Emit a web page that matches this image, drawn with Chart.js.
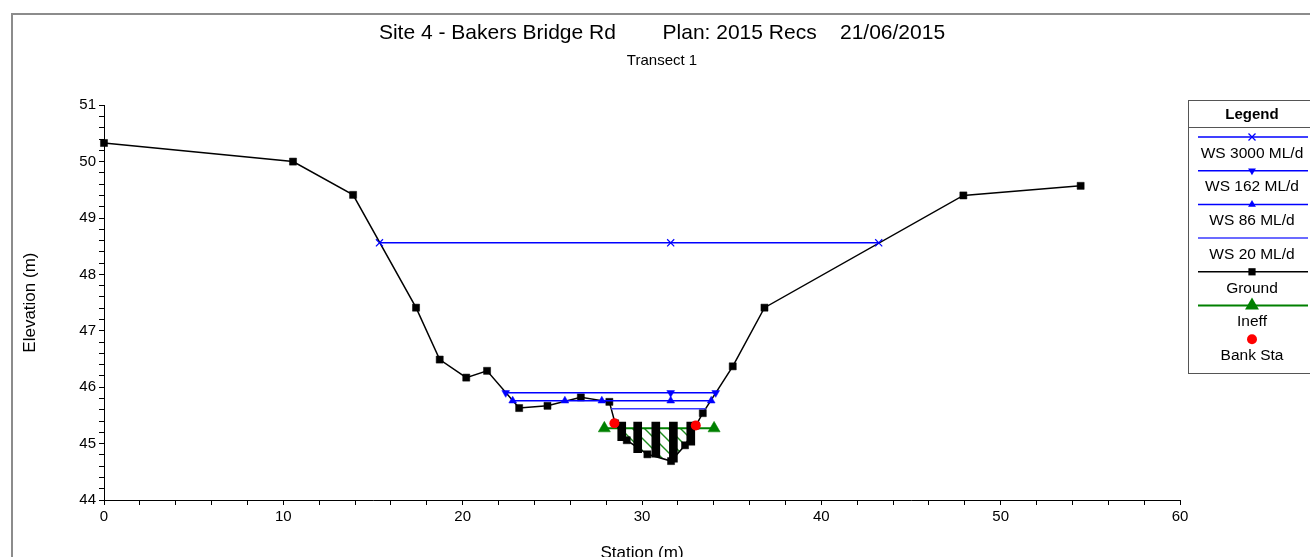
<!DOCTYPE html>
<html>
<head>
<meta charset="utf-8">
<script src="https://cdn.jsdelivr.net/npm/chart.js@4.4.1/dist/chart.umd.min.js"></script>
<style>
  html, body { margin: 0; padding: 0; background: #fff; overflow: hidden; }
  #wrap { position: relative; width: 1310px; height: 557px; overflow: hidden; }
  #frame { position: absolute; left: 11px; top: 13px; width: 1400px; height: 700px;
           border-left: 2px solid #8c8c8c; border-top: 2px solid #8c8c8c; }
  #xs { position: absolute; left: 0; top: 0; }
</style>
</head>
<body>
<div id="wrap">
  <div id="frame"></div>
  <canvas id="xs" width="1310" height="580"></canvas>
</div>
<script>
// ── cross section data (station m, elevation m) ──
const groundSta  = [0, 10.54, 13.89, 17.4, 18.72, 20.2, 21.36, 23.15, 24.73, 26.59, 28.18, 28.5,
                    29.15, 30.3, 31.62, 32.4, 33.0, 33.39, 35.06, 36.83, 47.92, 54.46];
const groundElev = [50.33, 50.0, 49.41, 47.41, 46.49, 46.17, 46.29, 45.63, 45.67, 45.82, 45.74, 45.36,
                    45.06, 44.81, 44.69, 44.97, 45.32, 45.54, 46.37, 47.41, 49.40, 49.57];

// vertical ground columns inside the channel
const colSta    = [28.87, 29.76, 30.77, 31.75, 32.72];
const colTop    = [45.38, 45.38, 45.38, 45.38, 45.38];
const colBottom = [45.05, 44.84, 44.76, 44.67, 44.97];

// water surfaces
const ws3000Sta = [15.36, 31.6, 43.2];
const ws3000El  = 48.56;
const ws162Sta  = [22.4, 31.6, 34.11];
const ws162El   = 45.90;
const ws86Sta   = [22.79, 25.7, 27.76, 31.6, 33.86];
const ws86El    = 45.76;
const ws20Sta   = [28.28, 33.56];
const ws20El    = 45.62;

// ineffective flow limits and bank stations
const ineffSta  = [27.9, 34.02];
const ineffEl   = 45.27;
const bankSta   = [28.46, 33.0];
const bankEl    = [45.36, 45.32];

const xTicks = [0, 10, 20, 30, 40, 50, 60];
const yTicks = [44, 45, 46, 47, 48, 49, 50, 51];

const FONT = "'Liberation Sans', Arial, sans-serif";

function pts(xs, ys) {
  return xs.map((x, i) => ({ x: x, y: Array.isArray(ys) ? ys[i] : ys }));
}

function makeHatch() {
  const c = document.createElement('canvas');
  c.width = 12; c.height = 12;
  const g = c.getContext('2d');
  g.strokeStyle = '#1e8c1e';
  g.lineWidth = 1.4;
  g.beginPath();
  g.moveTo(-6, 6);  g.lineTo(6, 18);
  g.moveTo(0, 0);   g.lineTo(12, 12);
  g.moveTo(6, -6);  g.lineTo(18, 6);
  g.stroke();
  return g.createPattern(c, 'repeat');
}

function marker(ctx, style, x, y, r, rot) {
  ctx.save();
  ctx.translate(x, y);
  if (rot) ctx.rotate(rot * Math.PI / 180);
  ctx.beginPath();
  if (style === 'rect') {
    ctx.rect(-r * 0.72, -r * 0.72, r * 1.44, r * 1.44);
    ctx.fill();
  } else if (style === 'triangle') {
    ctx.moveTo(0, -r);
    ctx.lineTo(r * 0.87, r * 0.5);
    ctx.lineTo(-r * 0.87, r * 0.5);
    ctx.closePath();
    ctx.fill();
  } else if (style === 'circle') {
    ctx.arc(0, 0, r, 0, Math.PI * 2);
    ctx.fill();
  } else if (style === 'crossRot') {
    const d = r * 0.7;
    ctx.moveTo(-d, -d); ctx.lineTo(d, d);
    ctx.moveTo(d, -d);  ctx.lineTo(-d, d);
    ctx.stroke();
  }
  ctx.restore();
}

// boxed legend on the right, built from the datasets
const boxLegend = {
  id: 'boxLegend',
  afterDraw(chart) {
    const ctx = chart.ctx;
    const x0 = 1188, y0 = 100, w = 130, h = 273;
    const cx = 1252;
    ctx.save();
    ctx.fillStyle = '#fff';
    ctx.fillRect(x0, y0, w, h);
    ctx.strokeStyle = '#555';
    ctx.lineWidth = 1;
    ctx.strokeRect(x0 + 0.5, y0 + 0.5, w, h);
    ctx.beginPath();
    ctx.moveTo(x0, 127.5); ctx.lineTo(x0 + w, 127.5);
    ctx.stroke();

    ctx.fillStyle = '#000';
    ctx.textAlign = 'center';
    ctx.textBaseline = 'middle';
    ctx.font = 'bold 15px ' + FONT;
    ctx.fillText('Legend', cx, 115);

    ctx.font = '15.5px ' + FONT;
    let y = 137;
    chart.data.datasets.forEach(ds => {
      if (ds.inLegend === false) return;
      if (ds.showLine !== false) {
        ctx.strokeStyle = ds.borderColor;
        ctx.lineWidth = ds.borderWidth;
        ctx.beginPath();
        ctx.moveTo(1198, y); ctx.lineTo(1308, y);
        ctx.stroke();
      }
      if (ds.pointRadius > 0) {
        ctx.fillStyle = ds.pointBackgroundColor;
        ctx.strokeStyle = ds.pointBorderColor;
        ctx.lineWidth = 1.3;
        marker(ctx, ds.pointStyle, cx, y, ds.legendRadius || ds.pointRadius, ds.pointRotation || 0);
      }
      ctx.fillStyle = '#000';
      ctx.fillText(ds.label, cx, y + 16.5);
      y += 33.7;
    });
    ctx.restore();
  }
};

const hatch = makeHatch();

const chart = new Chart(document.getElementById('xs'), {
  type: 'line',
  data: {
    datasets: [
      {
        label: 'WS 3000 ML/d', data: pts(ws3000Sta, ws3000El),
        borderColor: '#0000ff', borderWidth: 1.5,
        pointStyle: 'crossRot', pointRadius: 5, pointBorderWidth: 1.2,
        pointBackgroundColor: '#0000ff', pointBorderColor: '#0000ff', order: 1
      },
      {
        label: 'WS 162 ML/d', data: pts(ws162Sta, ws162El),
        borderColor: '#0000ff', borderWidth: 1.5,
        pointStyle: 'triangle', pointRotation: 180, pointRadius: 4.5, pointBorderWidth: 0.5,
        pointBackgroundColor: '#0000ff', pointBorderColor: '#0000ff', order: 1
      },
      {
        label: 'WS 86 ML/d', data: pts(ws86Sta, ws86El),
        borderColor: '#0000ff', borderWidth: 1.5,
        pointStyle: 'triangle', pointRadius: 4.5, pointBorderWidth: 0.5,
        pointBackgroundColor: '#0000ff', pointBorderColor: '#0000ff', order: 1
      },
      {
        label: 'WS 20 ML/d', data: pts(ws20Sta, ws20El),
        borderColor: '#3a3aff', borderWidth: 1.5, pointRadius: 0, order: 1
      },
      {
        label: 'Ground', data: pts(groundSta, groundElev),
        borderColor: '#000', borderWidth: 1.5,
        pointStyle: 'rect', pointRadius: 5, pointBorderWidth: 0.5,
        pointBackgroundColor: '#000', pointBorderColor: '#000', order: 2
      },
      {
        label: 'Ineff', data: pts(ineffSta, ineffEl),
        borderColor: '#008000', borderWidth: 2,
        pointStyle: 'triangle', pointRadius: 7, legendRadius: 8, pointBorderWidth: 0.5,
        pointBackgroundColor: '#008000', pointBorderColor: '#008000',
        fill: { target: 4, above: hatch, below: 'rgba(0,0,0,0)' }, order: 5
      },
      {
        label: 'Bank Sta', data: pts(bankSta, bankEl), showLine: false,
        pointStyle: 'circle', pointRadius: 5, pointBorderWidth: 0,
        pointBackgroundColor: '#ff0000', pointBorderColor: '#ff0000', order: 0
      },
      {
        type: 'bar', label: 'columns', inLegend: false,
        data: colSta.map((x, i) => ({ x: x, y: [colBottom[i], colTop[i]] })),
        backgroundColor: '#000', borderWidth: 0, barThickness: 8, order: 3
      }
    ]
  },
  options: {
    responsive: false,
    animation: false,
    events: [],
    layout: { padding: { left: 14, right: 0, top: 0, bottom: 0 } },
    datasets: { line: { clip: false, tension: 0 } },
    plugins: {
      legend: { display: false },
      tooltip: { enabled: false },
      title: {
        display: true,
        text: 'Site 4 - Bakers Bridge Rd        Plan: 2015 Recs    21/06/2015',
        color: '#000',
        font: { family: FONT, size: 21, weight: 'normal' },
        padding: { top: 21, bottom: 4 }
      },
      subtitle: {
        display: true,
        text: 'Transect 1',
        color: '#000',
        font: { family: FONT, size: 15, weight: 'normal' },
        padding: { top: 2, bottom: 35 }
      }
    },
    scales: {
      x: {
        type: 'linear', min: 0, max: 60, offset: false,
        afterFit: s => { s.height = 80; },
        ticks: {
          stepSize: 2, autoSkip: false, maxRotation: 0, padding: 3,
          color: '#000', font: { family: FONT, size: 15 },
          callback: v => (xTicks.includes(Math.round(v)) && Math.abs(v - Math.round(v)) < 1e-6) ? Math.round(v) : ''
        },
        grid: { display: true, drawOnChartArea: false, drawTicks: true, tickLength: 5, color: '#000', offset: false },
        border: { display: true, color: '#000', width: 1 },
        title: { display: true, text: 'Station (m)', color: '#000',
                 font: { family: FONT, size: 17 }, padding: { top: 0, bottom: 16 } }
      },
      y: {
        type: 'linear', min: 44, max: 51,
        afterFit: s => { s.width = 90; },
        ticks: {
          stepSize: 0.2, autoSkip: false, padding: 3,
          color: '#000', font: { family: FONT, size: 15 },
          callback: v => (Math.abs(v - Math.round(v)) < 1e-6 && yTicks.includes(Math.round(v))) ? Math.round(v) : ''
        },
        grid: { display: true, drawOnChartArea: false, drawTicks: true, tickLength: 5, color: '#000' },
        border: { display: true, color: '#000', width: 1 },
        title: { display: true, text: 'Elevation (m)', color: '#000',
                 font: { family: FONT, size: 17 }, padding: { top: 6, bottom: 0 } }
      },
      yr: {
        type: 'linear', position: 'right', min: 44, max: 51, display: true,
        afterFit: s => { s.width = 130; },
        ticks: { display: false },
        grid: { display: false },
        border: { display: false }
      }
    }
  },
  plugins: [boxLegend]
});
</script>
</body>
</html>
